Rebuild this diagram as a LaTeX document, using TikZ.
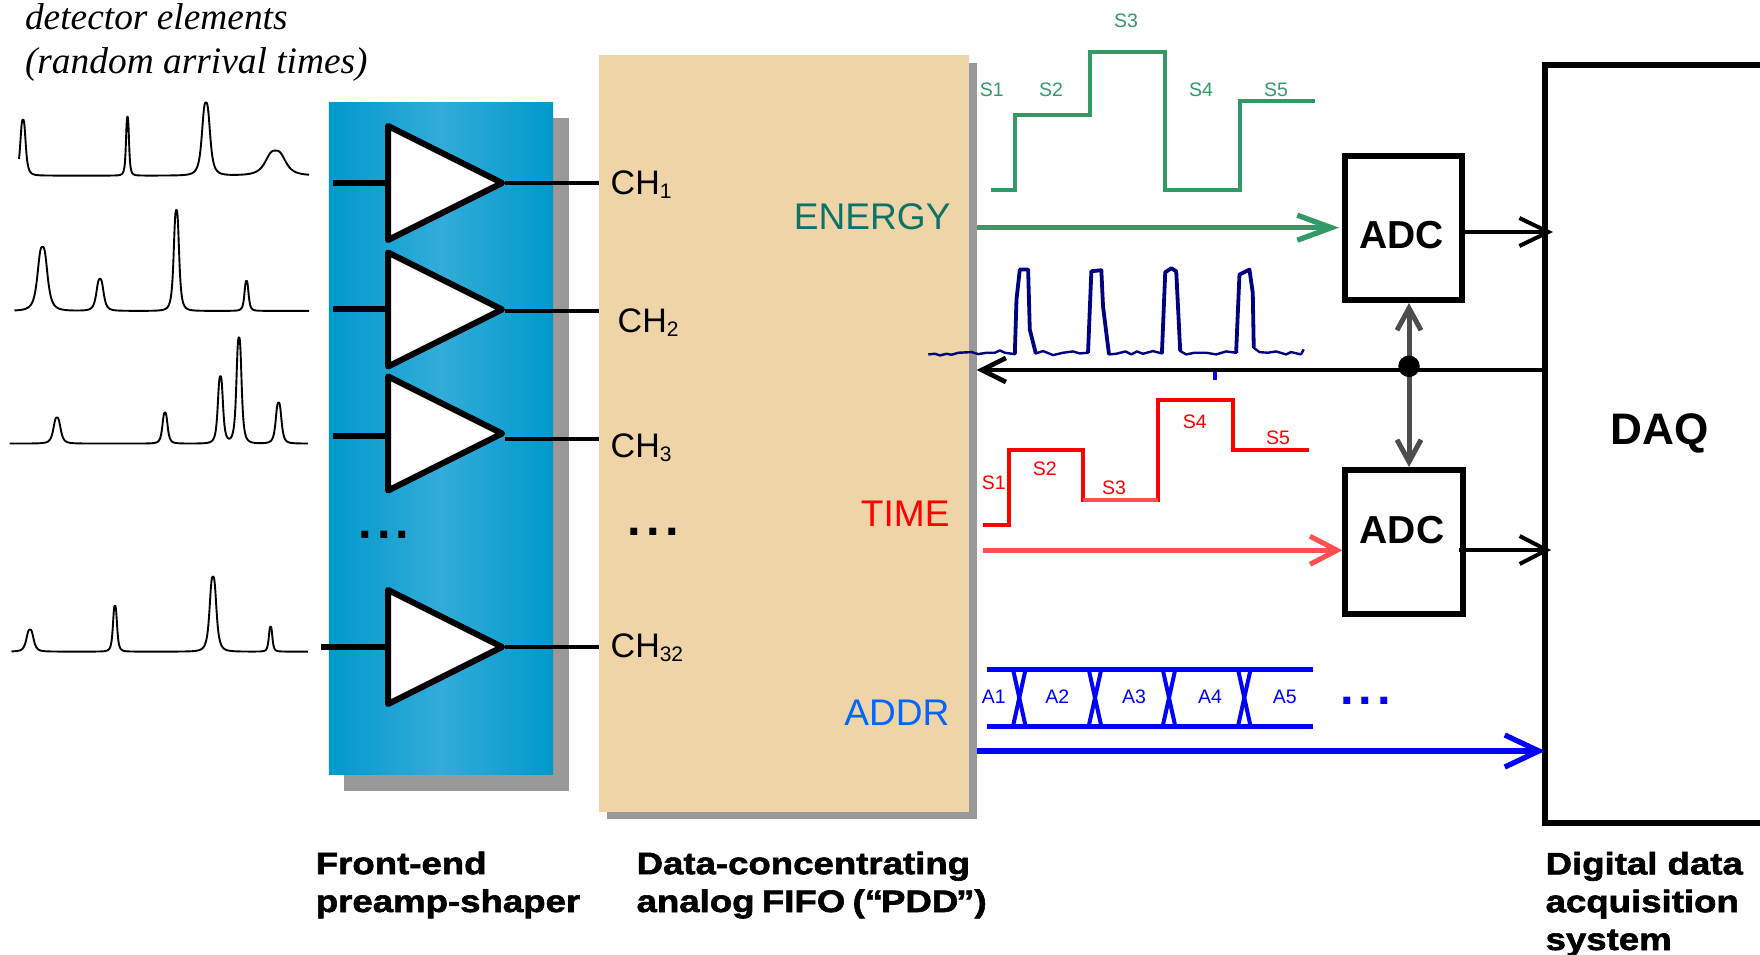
\documentclass[tikz,border=0pt]{standalone}
\usepackage{fontspec}
\setmainfont{Liberation Sans}
\newfontfamily\blackf[BoldFeatures={FakeBold=1.9,FakeStretch=1.18}]{Liberation Sans}
\newfontfamily\itf{Liberation Serif}
\usetikzlibrary{arrows.meta,shapes.geometric,calc}
\definecolor{shadowgray}{RGB}{153,153,153}
\definecolor{blueedge}{RGB}{0,153,204}
\definecolor{bluemid}{RGB}{51,172,216}
\definecolor{fifotan}{RGB}{239,212,168}
\definecolor{sgreen}{RGB}{51,153,102}
\definecolor{eteal}{RGB}{13,115,105}
\definecolor{tred}{RGB}{255,0,0}
\definecolor{tredl}{RGB}{255,80,80}
\definecolor{aqblue}{RGB}{0,0,255}
\definecolor{addrblue}{RGB}{0,102,255}
\definecolor{navyw}{RGB}{0,0,128}
\definecolor{gbus}{RGB}{77,77,77}
\newcommand{\chname}[1]{CH\raisebox{-1.1pt}{\fontsize{5.97pt}{6pt}\selectfont #1}}
\newcommand{\threedots}{\fontsize{13.9pt}{14pt}\selectfont\bfseries .\kern1.45pt.\kern1.45pt.}
\tikzset{
  plainbox/.style={rectangle,draw=none,inner sep=0pt,outer sep=0pt},
  shadowbox/.style={plainbox,fill=shadowgray},
  ampshape/.style={isosceles triangle,isosceles triangle stretches,shape border rotate=0,draw=black,fill=white,
     line width=0.06cm,inner sep=0pt,outer sep=0pt,line join=round,minimum width=1.14cm,minimum height=1.14cm,anchor=lower side},
  adcbox/.style={rectangle,draw=black,fill=white,line width=0.06cm,inner sep=0pt,minimum width=1.17cm,minimum height=1.44cm},
  txt/.style={inner sep=0pt,outer sep=0pt,anchor=base west},
  ctxt/.style={inner sep=0pt,outer sep=0pt,anchor=base},
  rtxt/.style={inner sep=0pt,outer sep=0pt,anchor=base east},
  blk/.style={txt,align=left,font=\fontsize{8.82pt}{10.75pt}\selectfont\blackf\bfseries},
  sig/.style={ctxt,font=\fontsize{5.55pt}{6pt}\selectfont},
  chl/.style={txt,font=\fontsize{9.67pt}{10pt}\selectfont},
  side/.style={rtxt,font=\fontsize{10.55pt}{11pt}\selectfont},
  inw/.style={line width=0.06cm,black},
  outw/.style={line width=0.04cm,black},
  wf/.style={line width=0.019cm,black,line join=round},
  declare function={pka(\v)=1/(1+\v*\v*\v);pk(\u)=pka(min(abs(\u),12));}
}
\begin{document}
\begin{tikzpicture}[x=0.01cm,y=-0.01cm]
\useasboundingbox (0,0) rectangle (1760,955);

% front-end block
\node[shadowbox,minimum width=2.25cm,minimum height=6.73cm] (feshadow) at (456.5,454.5) {};
\node[plainbox,left color=blueedge,right color=blueedge,middle color=bluemid,minimum width=2.24cm,minimum height=6.71cm] (fe) at (441,438.5) {};

% FIFO block
\node[shadowbox,minimum width=3.69cm,minimum height=7.56cm] (fifoshadow) at (792,441) {};
\node[plainbox,fill=fifotan,minimum width=3.70cm,minimum height=7.57cm] (fifo) at (784,433.5) {};

% amplifiers
\node[ampshape] (amp1) at (388,183) {};
\node[ampshape] (amp2) at (388,309.5) {};
\node[ampshape] (amp3) at (388,433.5) {};
\node[ampshape] (amp4) at (388,647) {};
\coordinate (in1) at (333,183);
\coordinate (in2) at (333,309);
\coordinate (in3) at (333,436);
\coordinate (in4) at (321,647);
\draw[inw] (in1) -- (in1 -| amp1.lower side);
\draw[inw] (in2) -- (in2 -| amp2.lower side);
\draw[inw] (in3) -- (in3 -| amp3.lower side);
\draw[inw] (in4) -- (in4 -| amp4.lower side);
\coordinate (out1) at (505,183);
\coordinate (out2) at (505,311);
\coordinate (out3) at (505,439);
\coordinate (out4) at (505,647);
\draw[outw] (out1) -- (out1 -| fifo.west);
\draw[outw] (out2) -- (out2 -| fifo.west);
\draw[outw] (out3) -- (out3 -| fifo.west);
\draw[outw] (out4) -- (out4 -| fifo.west);

\node[txt] (dots1) at (358.4,538.7) {\threedots};
\node[txt] (dots2) at (627.8,535.7) {\threedots};

% detector traces
\draw[wf] plot[domain=19:309,samples=581] (\x,{175.7-56*pk((\x-23)/3)-59*pk((\x-127.5)/1.7)-73*pk((\x-206)/4.5)-25*pk((\x-275.5)/11)});
\draw[wf] plot[domain=14.5:309,samples=590] (\x,{311-64*pk((\x-42.5)/5.5)-32*pk((\x-100)/4)-101*pk((\x-176.4)/3)-30*pk((\x-246.5)/2.3)});
\draw[wf] plot[domain=9.6:308,samples=597] (\x,{443.7-26*pk((\x-57)/4)-31*pk((\x-165)/2.9)-67*pk((\x-220.4)/2.9)-106*pk((\x-239)/2.9)-41*pk((\x-278.6)/3.2)});
\draw[wf] plot[domain=11.5:308,samples=593] (\x,{651.7-22*pk((\x-30)/4)-46*pk((\x-115)/2.3)-75*pk((\x-213)/3.8)-25*pk((\x-270.6)/2)});

% captions
\node[txt,font=\fontsize{10.63pt}{12.5pt}\selectfont\itf\itshape] (dettext) at (25,30) {detector elements};
\node[txt,font=\fontsize{10.63pt}{12.5pt}\selectfont\itf\itshape] (dettext2) at (25,74) {(random arrival times)};
\node[blk] (capfe) at (315.8,912) {Front-end\\preamp-shaper};
\node[blk] (capfifo) at (636.6,912) {Data-concentrating\\analog\kern-0.8pt{} FIFO\kern-0.8pt{} (“\kern-0.6pt{}PDD\kern-0.6pt{}”)};
\node[blk] (capdaq) at (1545.6,950) {Digital data\\acquisition\\system};

% channel labels
\node[chl] (ch1) at (610.7,194.3) {\chname{1}};
\node[chl] (ch2) at (617.7,332.7) {\chname{2}};
\node[chl] (ch3) at (610.7,457.7) {\chname{3}};
\node[chl] (ch32) at (610.7,657.7) {\chname{32}};
\node[side,text=eteal] (energy) at (950.5,229.3) {ENERGY};
\node[side,text=tred] (timelab) at (949.5,526.5) {TIME};
\node[side,text=addrblue] (addr) at (949.5,725.3) {ADDR};

% ADCs
\node[adcbox] (adc1) at (1403.5,228) {};
\node[adcbox] (adc2) at (1404,542) {};
\node[ctxt,font=\fontsize{11.1pt}{12pt}\selectfont\bfseries] (adc1t) at (1401.7,249) {ADC};
\node[ctxt,font=\fontsize{11.1pt}{12pt}\selectfont\bfseries] (adc2t) at (1402,544) {ADC};

% DAQ
\coordinate (daqtr) at (1760,65);
\coordinate (daqtl) at (1545,65);
\coordinate (daqbl) at (1545,823);
\coordinate (daqbr) at (1760,823);
\draw[line width=0.058cm,black,line join=miter] (daqtr) -- (daqtl) -- (daqbl) -- (daqbr);
\node[ctxt,font=\fontsize{12.55pt}{13pt}\selectfont\bfseries] (daqt) at (1660,445) {DAQ};

% energy waveform and arrow
\coordinate (e0) at (990.7,190.3);
\coordinate (e5) at (1315,101.3);
\draw[line width=0.04cm,sgreen,line join=miter] (e0) -- (1015,190.3) -- (1015,115) -- (1090,115) -- (1090,52) -- (1165,52) -- (1165,190.3) -- (1240,190.3) -- (1240,101.3) -- (e5);
\node[sig,text=sgreen] (es1) at (991.7,96.5) {S1};
\node[sig,text=sgreen] (es2) at (1051,96.5) {S2};
\node[sig,text=sgreen] (es3) at (1126,28) {S3};
\node[sig,text=sgreen] (es4) at (1201,96.5) {S4};
\node[sig,text=sgreen] (es5) at (1276,96.5) {S5};
\coordinate (eout) at (977,227.7);
\coordinate (ein) at (1339,227.7);
\draw[line width=0.053cm,sgreen,-{Straight Barb[length=0.34cm,width=0.25cm]}] (eout) -- (ein);

% pulse waveform
\begin{scope}[shift={(900,0)},x=0.00333333cm,y=-0.00333333cm]
\draw[line width=0.024cm,navyw,line join=round] (85,1065)--(105,1063)--(120,1068)--(140,1063)--(155,1066)--(175,1060)--(215,1058)--(235,1064)--(260,1060)--(285,1060)--(300,1053)--(315,1060)--(345,1064)--(350,900)--(360,810)--(385,810)--(390,990)--(408,1062)--(430,1055)--(460,1067)--(490,1060)--(520,1056)--(540,1062)--(565,1060)--(575,815)--(605,812)--(610,920)--(628,1065)--(650,1063)--(678,1056)--(695,1065)--(712,1056)--(730,1063)--(760,1055)--(787,1062)--(797,818)--(815,806)--(830,815)--(842,1055)--(860,1065)--(885,1060)--(920,1060)--(950,1065)--(980,1056)--(1010,1060)--(1020,825)--(1050,810)--(1060,880)--(1063,1045)--(1080,1058)--(1105,1060)--(1130,1056)--(1160,1065)--(1175,1058)--(1205,1065)--(1213,1050);
\draw[line width=0.038cm,navyw,line join=round] (345,1064)--(350,900)--(360,810)--(385,810)--(390,990)--(408,1062);
\draw[line width=0.038cm,navyw,line join=round] (565,1060)--(575,815)--(605,812)--(610,920)--(628,1065);
\draw[line width=0.038cm,navyw,line join=round] (787,1062)--(797,818)--(815,806)--(830,815)--(842,1055);
\draw[line width=0.038cm,navyw,line join=round] (1010,1060)--(1020,825)--(1050,810)--(1060,880)--(1063,1045);
\end{scope}

% control bus
\coordinate (junction) at (1409,366.3);
\coordinate (busr) at (1545,370);
\draw[line width=0.047cm,black,-{Straight Barb[length=0.24cm,width=0.24cm]}] (busr) -- (busr -| fifoshadow.east);
\draw[line width=0.04cm,aqblue] (1215,372) -- (1215,380);
\draw[line width=0.05cm,gbus,{Straight Barb[length=0.22cm,width=0.24cm]}-{Straight Barb[length=0.22cm,width=0.24cm]}] (junction |- adc1.south) -- (junction |- adc2.north);
\node[circle,fill=black,inner sep=0pt,minimum size=0.215cm] (jdot) at (junction) {};

% time waveform and arrow
\coordinate (t0) at (983,525.3);
\coordinate (t5) at (1309,450.3);
\draw[line width=0.04cm,tred,line join=miter] (t0) -- (1008.7,525.3) -- (1008.7,450) -- (1083,450) -- (1083,500.3) -- (1158,500.3) -- (1158,400) -- (1233,400) -- (1233,450.3) -- (t5);
\draw[line width=0.04cm,tredl] (1083,500.3) -- (1158,500.3);
\node[sig,text=tred] (ts1) at (993.7,490) {S1};
\node[sig,text=tred] (ts2) at (1044.7,476) {S2};
\node[sig,text=tred] (ts3) at (1114,495) {S3};
\node[sig,text=tred] (ts4) at (1194.7,428.7) {S4};
\node[sig,text=tred] (ts5) at (1278,445) {S5};
\coordinate (tout) at (983,550.3);
\draw[line width=0.05cm,tredl,-{Straight Barb[length=0.27cm,width=0.28cm]}] (tout) -- (tout -| adc2.west);

% address lines
\coordinate (a1) at (987,669.3);
\coordinate (a2) at (1313,669.3);
\coordinate (b1) at (987,726.3);
\coordinate (b2) at (1313,726.3);
\draw[line width=0.047cm,aqblue] (a1) -- (a2);
\draw[line width=0.047cm,aqblue] (b1) -- (b2);
\foreach \c in {1019.3,1095,1169,1244.3}{
  \draw[line width=0.04cm,aqblue] (\c-6.3,669.3) -- (\c+6.3,726.3);
  \draw[line width=0.04cm,aqblue] (\c+6.3,669.3) -- (\c-6.3,726.3);
}
\node[sig,text=aqblue] (as1) at (993.7,703) {A1};
\node[sig,text=aqblue] (as2) at (1057.3,703) {A2};
\node[sig,text=aqblue] (as3) at (1134,703) {A3};
\node[sig,text=aqblue] (as4) at (1210,703) {A4};
\node[sig,text=aqblue] (as5) at (1284.7,703) {A5};
\node[txt,text=aqblue] (dots3) at (1340,704.5) {\threedots};
\coordinate (aout) at (977,751);
\coordinate (ain) at (1545,751);
\draw[line width=0.053cm,aqblue,-{Straight Barb[length=0.34cm,width=0.32cm]}] (aout) -- (ain);

% ADC outputs
\coordinate (d1) at (1553,232);
\coordinate (d2) at (1459,550);
\coordinate (d3) at (1551,550);
\draw[line width=0.04cm,black,-{Straight Barb[length=0.29cm,width=0.28cm]}] (adc1.east |- d1) -- (d1);
\draw[line width=0.04cm,black,-{Straight Barb[length=0.27cm,width=0.28cm]}] (d2) -- (d3);
\end{tikzpicture}
\end{document}
